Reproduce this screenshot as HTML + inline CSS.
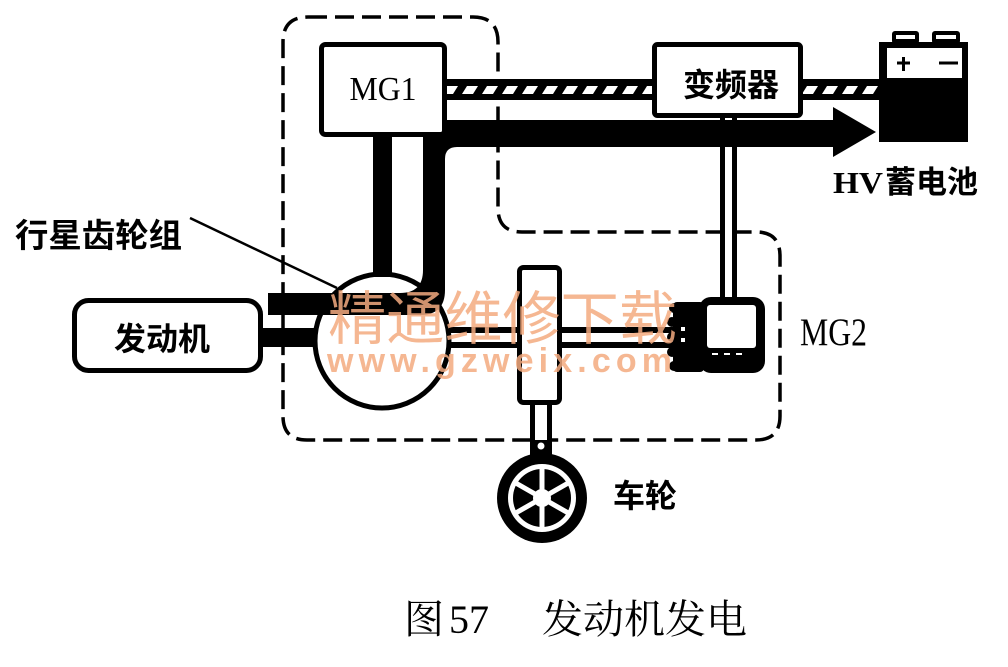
<!DOCTYPE html>
<html><head><meta charset="utf-8"><style>
html,body{margin:0;padding:0;background:#fff;}
svg{display:block;}
.cj{font-family:"Liberation Sans","Noto Sans CJK SC",sans-serif;font-weight:bold;}
.sf{font-family:"Liberation Serif","Noto Serif CJK SC",serif;}
</style></head><body>
<svg width="1008" height="667" viewBox="0 0 1008 667" xmlns="http://www.w3.org/2000/svg">
<defs>
<pattern id="h" patternUnits="userSpaceOnUse" x="0" y="0" width="20" height="667">
<polygon points="2,94 7,86 18,86 13,94" fill="#fff"/>
</pattern>
</defs>
<rect width="1008" height="667" fill="#fff"/>

<!-- dashed outline -->
<path d="M308,17 H473 Q498,17 498,42 V208 Q498,232 522,232 H756 Q780,232 780,256 V416 Q780,440 756,440 H307 Q283,440 283,416 V42 Q283,17 308,17 Z" fill="none" stroke="#000" stroke-width="3.5" stroke-dasharray="19 8"/>

<!-- hatched cables -->
<rect x="445" y="79" width="210" height="21" fill="#000"/>
<rect x="445" y="86" width="210" height="8" fill="url(#h)"/>
<rect x="800" y="79" width="82" height="21" fill="#000"/>
<rect x="800" y="86" width="80" height="8" fill="url(#h)"/>

<!-- inverter to MG2 double line -->
<rect x="720" y="116" width="5" height="184" fill="#000"/>
<rect x="732" y="116" width="5" height="184" fill="#000"/>

<!-- power flow path -->
<path d="M268,293 H400 Q423,293 423,270 V120 H836 V147 H457 Q445,147 445,159 V290 Q445,315 420,315 H268 Z" fill="#000"/>
<polygon points="833,107 876,132 833,157" fill="#000"/>

<!-- MG1 shaft -->
<rect x="373" y="135" width="19" height="142" fill="#000"/>

<!-- engine shaft -->
<rect x="261" y="328" width="56" height="19" fill="#000"/>

<!-- shaft to MG2 -->
<rect x="448" y="327" width="228" height="6" fill="#000"/>
<rect x="448" y="342" width="228" height="6" fill="#000"/>

<!-- planetary gear circle -->
<circle cx="382" cy="341" r="67" fill="none" stroke="#000" stroke-width="5"/>

<!-- leader line -->
<line x1="190" y1="218" x2="337" y2="288" stroke="#000" stroke-width="2.5"/>

<!-- MG1 box -->
<rect x="321.5" y="44.5" width="123" height="90" rx="4" fill="#fff" stroke="#000" stroke-width="5"/>
<text x="383" y="100" class="sf" font-size="34" text-anchor="middle" textLength="67" lengthAdjust="spacingAndGlyphs">MG1</text>

<!-- inverter box -->
<rect x="654.5" y="44.5" width="146" height="71" rx="3" fill="#fff" stroke="#000" stroke-width="5"/>
<text x="731" y="96" class="cj" font-size="32" text-anchor="middle">变频器</text>

<!-- battery -->
<rect x="892" y="31" width="27" height="13" rx="3" fill="#000"/>
<rect x="896" y="35" width="19" height="4" fill="#fff"/>
<rect x="932" y="31" width="28" height="13" rx="3" fill="#000"/>
<rect x="936" y="35" width="20" height="4" fill="#fff"/>
<rect x="879" y="42" width="89" height="100" fill="#000"/>
<rect x="887" y="48" width="75" height="30" fill="#fff"/>
<line x1="897" y1="63" x2="910" y2="63" stroke="#000" stroke-width="3"/>
<line x1="903.5" y1="57" x2="903.5" y2="71" stroke="#000" stroke-width="3"/>
<line x1="939" y1="63" x2="958" y2="63" stroke="#000" stroke-width="3"/>
<text x="833" y="193" font-size="31" font-weight="bold"><tspan font-family="'Liberation Serif',serif" textLength="50" lengthAdjust="spacingAndGlyphs">HV</tspan><tspan x="885" font-family="'Liberation Sans','Noto Sans CJK SC',sans-serif" textLength="93" lengthAdjust="spacingAndGlyphs">蓄电池</tspan></text>

<!-- engine box -->
<rect x="74.5" y="300.5" width="186" height="70" rx="14" fill="#fff" stroke="#000" stroke-width="5"/>
<text x="162" y="350" class="cj" font-size="32" text-anchor="middle">发动机</text>

<text x="15" y="247" class="cj" font-size="33" textLength="167" lengthAdjust="spacingAndGlyphs">行星齿轮组</text>

<!-- reduction gear block -->
<rect x="519.5" y="267.5" width="40" height="135" rx="4" fill="#fff" stroke="#000" stroke-width="5"/>

<!-- wheel shaft -->
<rect x="530" y="402" width="22" height="54" fill="#000"/>
<rect x="535" y="405" width="12" height="35" fill="#fff"/>
<circle cx="541" cy="446" r="3.5" fill="#fff"/>

<!-- wheel -->
<circle cx="542" cy="498" r="45" fill="#000"/>
<circle cx="542" cy="498" r="34" fill="#fff"/>
<circle cx="542" cy="498" r="29" fill="#000"/>
<g stroke="#fff" stroke-width="5">
<line x1="542" y1="498" x2="542" y2="466"/>
<line x1="542" y1="498" x2="542" y2="530"/>
<line x1="542" y1="498" x2="570" y2="482"/>
<line x1="542" y1="498" x2="514" y2="482"/>
<line x1="542" y1="498" x2="570" y2="514"/>
<line x1="542" y1="498" x2="514" y2="514"/>
</g>
<circle cx="542" cy="498" r="9" fill="#fff"/>
<text x="613" y="507" class="cj" font-size="32">车轮</text>

<!-- MG2 -->
<rect x="673" y="302" width="31" height="70" rx="4" fill="#000"/>
<circle cx="674" cy="308" r="5" fill="#000"/>
<circle cx="672" cy="322" r="5" fill="#000"/>
<circle cx="672" cy="337" r="5" fill="#000"/>
<circle cx="672" cy="352" r="5" fill="#000"/>
<circle cx="674" cy="366" r="5" fill="#000"/>
<rect x="681" y="327" width="4" height="4" fill="#fff"/>
<rect x="681" y="338" width="4" height="4" fill="#fff"/>
<rect x="699" y="297" width="66" height="76" rx="12" fill="#000"/>
<rect x="707" y="305" width="49" height="43" rx="3" fill="#fff"/>
<rect x="712" y="353" width="6" height="2" fill="#fff"/>
<rect x="724" y="353" width="6" height="2" fill="#fff"/>
<rect x="736" y="353" width="6" height="2" fill="#fff"/>
<text x="800" y="345" class="sf" font-size="39" textLength="67" lengthAdjust="spacingAndGlyphs">MG2</text>

<!-- caption -->
<text x="404" y="633" font-family="'Liberation Serif','Noto Serif CJK SC',serif" font-size="40">图</text>
<text x="449" y="633" class="sf" font-size="40">57</text>
<text x="542" y="633" font-family="'Liberation Serif','Noto Serif CJK SC',serif" font-size="40" textLength="205" lengthAdjust="spacingAndGlyphs">发动机发电</text>

<!-- watermark -->
<g opacity="0.85" fill="#f4ab80">
<text x="328" y="339" font-family="'Liberation Sans','Noto Sans CJK SC',sans-serif" font-size="58" textLength="349" lengthAdjust="spacingAndGlyphs">精通维修下载</text>
<text x="327" y="372" font-family="'Liberation Sans',sans-serif" font-weight="bold" font-size="34" textLength="345" lengthAdjust="spacing">www.gzweix.com</text>
</g>
</svg>
</body></html>
